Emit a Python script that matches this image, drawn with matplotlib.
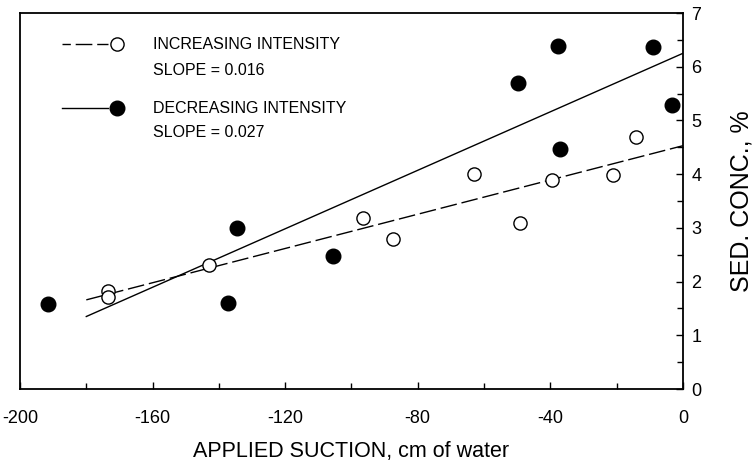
import matplotlib
matplotlib.use("Agg")
import matplotlib.pyplot as plt
from matplotlib.ticker import MultipleLocator

plt.rcParams['font.family'] = ['Liberation Sans', 'DejaVu Sans']

# increasing intensity (open circles)
inc_suction = [-173.4, -173.4, -143.0, -96.4, -87.4, -62.9, -49.2, -39.4, -21.0, -14.0]
inc_conc = [1.83, 1.72, 2.31, 3.18, 2.80, 4.01, 3.10, 3.89, 3.98, 4.70]

# decreasing intensity (filled circles)
dec_suction = [-191.5, -137.2, -134.6, -105.5, -49.9, -37.8, -37.1, -9.1, -3.4]
dec_conc = [1.58, 1.61, 2.99, 2.48, 5.70, 6.39, 4.47, 6.37, 5.28]

# fitted lines
fit_x = [-180, 0]
inc_fit = [1.66, 4.53]
dec_fit = [1.35, 6.25]

fig = plt.figure(figsize=(7.55, 4.66), dpi=100)
ax = fig.add_axes([0.0265, 0.1652, 0.878, 0.8068])

dash = (0, (12, 3.5))
ax.plot(fit_x, inc_fit, color='black', lw=1.0, linestyle=dash)
ax.plot(fit_x, dec_fit, color='black', lw=1.0)
ax.plot(inc_suction, inc_conc, 'o', ms=9.5, mfc='white', mec='black', mew=1.0)
ax.plot(dec_suction, dec_conc, 'o', ms=10.5, mfc='black', mec='black')

ax.set_xlim(-200, 0)
ax.set_ylim(0, 7)
ax.xaxis.set_major_locator(MultipleLocator(40))
ax.xaxis.set_minor_locator(MultipleLocator(20))
ax.yaxis.set_major_locator(MultipleLocator(1))
ax.yaxis.set_minor_locator(MultipleLocator(0.5))
ax.yaxis.tick_right()
ax.yaxis.set_label_position('right')
ax.tick_params(which='both', direction='in', width=1.0, labelsize=13)
ax.tick_params(which='major', length=5)
ax.tick_params(which='minor', length=4)
ax.tick_params(axis='x', which='major', pad=15)
ax.tick_params(axis='y', which='major', pad=6)
ax.xaxis.set_major_formatter(matplotlib.ticker.FuncFormatter(lambda v, p: f'{v:.0f}'))
for s in ax.spines.values():
    s.set_linewidth(1.3)

ax.set_xlabel('APPLIED SUCTION, cm of water', fontsize=15.5, labelpad=10)
ax.set_ylabel('SED. CONC., %', fontsize=18, labelpad=20, rotation=90)

# legend drawn by hand
tr = ax.transAxes
ax.plot([0.063, 0.133], [0.9176, 0.9176], transform=tr, color='black', lw=1.0, linestyle=(6, (12, 3.5)))
ax.plot([0.146], [0.9176], 'o', transform=tr, ms=9.5, mfc='white', mec='black', mew=1.0)
ax.text(0.2, 0.9176, 'INCREASING INTENSITY', transform=tr, fontsize=11.5, va='center')
ax.text(0.2, 0.848, 'SLOPE = 0.016', transform=tr, fontsize=11.5, va='center')
ax.plot([0.063, 0.133], [0.747, 0.747], transform=tr, color='black', lw=1.0)
ax.plot([0.146], [0.747], 'o', transform=tr, ms=10.5, mfc='black', mec='black')
ax.text(0.2, 0.747, 'DECREASING INTENSITY', transform=tr, fontsize=11.5, va='center')
ax.text(0.2, 0.681, 'SLOPE = 0.027', transform=tr, fontsize=11.5, va='center')

fig.savefig('out.png', dpi=100)
